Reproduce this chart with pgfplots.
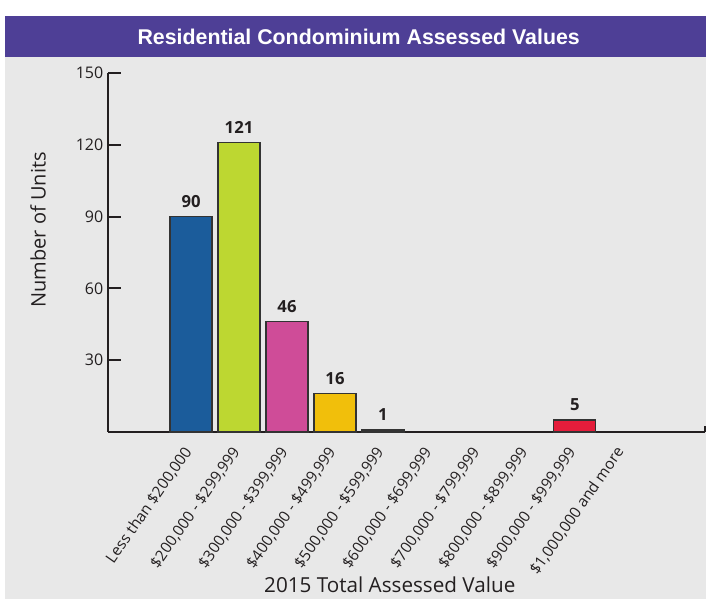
\documentclass[border=0pt]{standalone}
\usepackage{pgfplots}
\pgfplotsset{compat=1.18}
\usepackage{fontspec}
\setmainfont{Open Sans}
\newfontfamily\titlefont{Liberation Sans}
\definecolor{bg}{HTML}{E8E8E8}
\definecolor{titlepurple}{HTML}{4E3F96}
\definecolor{ink}{HTML}{231F20}
\definecolor{edge}{HTML}{333333}
\definecolor{cblue}{HTML}{1B5C9B}
\definecolor{clime}{HTML}{BDD731}
\definecolor{cmag}{HTML}{CF4C98}
\definecolor{cyel}{HTML}{F1BF0B}
\definecolor{cred}{HTML}{E51D3B}
\begin{document}
\begin{tikzpicture}[x=1pt,y=1pt]
\fill[white] (0,0) rectangle (529.5,449.25);
\fill[bg] (3.75,0) rectangle (529.5,406.5);
\fill[titlepurple] (3.75,406.5) rectangle (529.5,437.25);
\node[text=white,font=\titlefont\bfseries\fontsize{16}{18}\selectfont] at (269,421.5) {Residential Condominium Assessed Values};
\begin{axis}[
  at={(81pt,125.25pt)}, anchor=south west,
  scale only axis, width=447.75pt, height=269.25pt,
  xmin=-1.73, xmax=10.71, ymin=0, ymax=150,
  axis lines*=left,
  axis line style={line width=1.5pt, draw=ink},
  ytick={30,60,90,120,150},
  tick align=inside,
  major tick length=10pt,
  ytick style={line width=1.5pt, draw=ink},
  xtick={0,1,2,3,4,5,6,7,8,9},
  xtick style={draw=none},
  xticklabels={{Less than \$200,000},{\$200,000 - \$299,999},{\$300,000 - \$399,999},{\$400,000 - \$499,999},{\$500,000 - \$599,999},{\$600,000 - \$699,999},{\$700,000 - \$799,999},{\$800,000 - \$899,999},{\$900,000 - \$999,999},{\$1,000,000 and more}},
  xticklabel style={rotate=55, anchor=east, font=\fontsize{11.5}{13}\selectfont, text=ink},
  yticklabel style={font=\fontsize{12}{14}\selectfont, text=ink},
  /pgf/number format/assume math mode=true,
  ylabel={Number of Units},
  ylabel style={at={(rel axis cs:-0.117,0.563)}, anchor=center, font=\fontsize{15}{17}\selectfont, text=ink},
  xlabel={2015 Total Assessed Value},
  xlabel style={at={(rel axis cs:0.472,-0.426)}, anchor=center, font=\fontsize{15.5}{18}\selectfont, text=ink},
  ybar, bar width=31.5pt,
  nodes near coords,
  nodes near coords style={font=\bfseries\fontsize{12.5}{14}\selectfont, text=ink, yshift=3pt},
  clip=false,
]
\addplot[bar shift=0pt, fill=cblue, draw=edge, line width=0.8pt] coordinates {(0,90)};
\addplot[bar shift=0pt, fill=clime, draw=edge, line width=0.8pt] coordinates {(1,121)};
\addplot[bar shift=0pt, fill=cmag, draw=edge, line width=0.8pt] coordinates {(2,46)};
\addplot[bar shift=0pt, fill=cyel, draw=edge, line width=0.8pt] coordinates {(3,16)};
\addplot[bar shift=0pt, fill=edge, draw=edge, line width=0.8pt] coordinates {(4,1)};
\addplot[bar shift=0pt, fill=cred, draw=edge, line width=0.8pt] coordinates {(8,5)};
\draw[line width=1.5pt, draw=ink] (rel axis cs:1,0) -- (rel axis cs:1,0.016);
\end{axis}
\end{tikzpicture}
\end{document}
